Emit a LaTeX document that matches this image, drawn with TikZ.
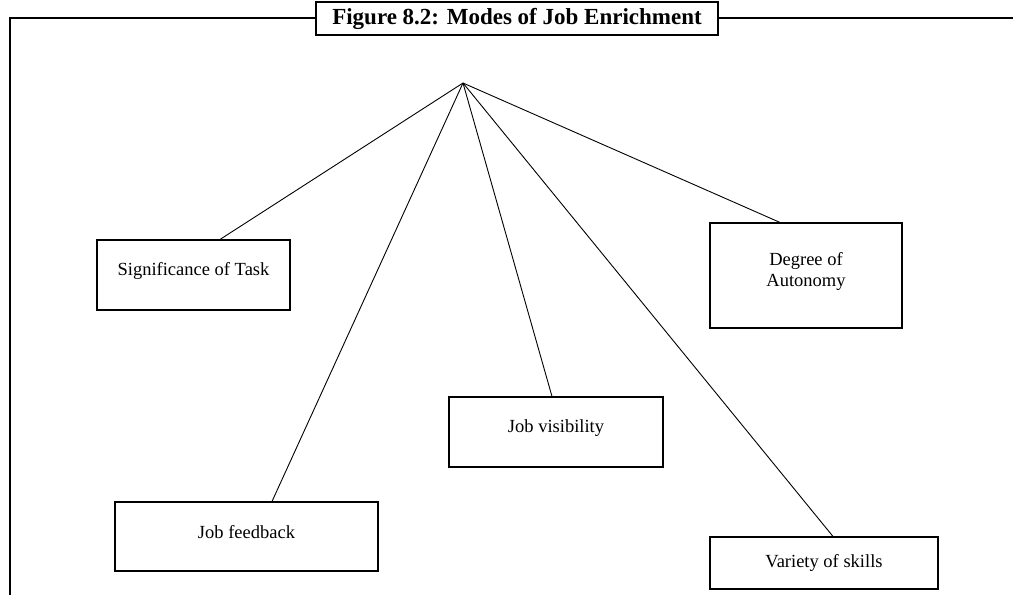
\documentclass[tikz,border=0pt]{standalone}
\usepackage{fontspec}
\setmainfont{Liberation Serif}
\usetikzlibrary{calc}
\begin{document}
\begin{tikzpicture}[x=1pt,y=-1pt,
  frame/.style={line width=2.2pt},
  mode/.style={draw, line width=1.1pt, inner sep=0pt},
  modetext/.style={align=center, inner sep=0pt, yshift=4pt,
    font=\fontsize{18.5}{20.5}\selectfont},
  link/.style={line width=0.9pt}]
\useasboundingbox (0,0) rectangle (1013,595);
% open frame around the figure
\draw[frame] (10,595) -- (10,18) -- (1013,18);
\node[draw, frame, fill=white, minimum width=402pt, minimum height=33pt,
  font=\bfseries\fontsize{23}{25}\selectfont] (title) at (517,18.5)
  {Figure 8.2: Modes of Job Enrichment};
% common point of the spokes
\coordinate (apex) at (463,83);
% the five modes
\node[mode, minimum width=193pt, minimum height=70pt,
  label={[modetext]center:Significance of Task}] (sig) at (193.5,275) {};
\node[mode, minimum width=263pt, minimum height=69pt,
  label={[modetext]center:Job feedback}] (fb) at (246.5,536.5) {};
\node[mode, minimum width=214pt, minimum height=70pt,
  label={[modetext]center:Job visibility}] (vis) at (556,432) {};
\node[mode, minimum width=192pt, minimum height=105pt,
  label={[modetext]center:{Degree of\\Autonomy}}] (deg) at (806,275.5) {};
\node[mode, minimum width=228pt, minimum height=52pt,
  label={[modetext, yshift=-4pt]center:Variety of skills}] (var) at (824,563) {};
% spokes
\draw[link] (apex) -- ($(sig.north)+(26.5,0)$);
\draw[link] (apex) -- ($(fb.north)+(25.5,0)$);
\draw[link] (apex) -- ($(vis.north)+(-4,0)$);
\draw[link] (apex) -- ($(deg.north)+(-26,0)$);
\draw[link] (apex) -- ($(var.north)+(9,0)$);
\end{tikzpicture}
\end{document}
